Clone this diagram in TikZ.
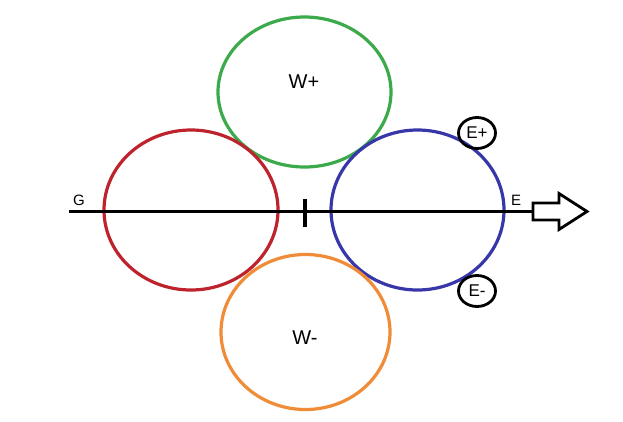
\documentclass[tikz,border=0pt]{standalone}
\usepackage{fontspec}
\setmainfont{Liberation Sans}
\usetikzlibrary{shapes.geometric}
\definecolor{zonered}{RGB}{190,35,45}
\definecolor{zonegreen}{RGB}{60,170,75}
\definecolor{zoneblue}{RGB}{55,55,170}
\definecolor{zoneorange}{RGB}{240,140,55}
\begin{document}
\begin{tikzpicture}[
      x=1pt, y=-1pt,
      zone/.style={ellipse, line width=3.2pt, inner sep=0pt, outer sep=0pt,
                   font=\fontsize{20}{24}\selectfont},
      pole/.style={ellipse, draw=black, line width=2.8pt, minimum width=37pt,
                   minimum height=31pt, inner sep=0pt, font=\fontsize{17}{20}\selectfont},
      axislabel/.style={font=\fontsize{15}{18}\selectfont},
    ]
    \useasboundingbox (0,0) rectangle (623,421);

    \node[zone, draw=zonegreen, minimum width=173pt, minimum height=150pt]
      (wplus) at (304.5,92) {};
    \node at (304,82) [zone] {W+};
    \node[zone, draw=zonered, minimum width=174pt, minimum height=160pt]
      (west) at (191,210) {};
    \node[zone, draw=zoneblue, minimum width=173pt, minimum height=160pt]
      (east) at (417.5,210) {};
    \node[zone, draw=zoneorange, minimum width=169pt, minimum height=155pt]
      (wminus) at (305.5,332) {};
    \node at (305,338) [zone] {W-};

    % axis with the open block arrow
    \coordinate (G) at (69,211.5);
    \coordinate (arrow) at (533,211.5);
    \draw[line width=3pt] (G) -- (arrow);
    \draw[line width=2.8pt, line join=miter] (arrow) -- ++(0,-8.5) -- ++(26,0)
      -- ++(0,-9.5) -- ++(28,18) -- ++(-28,18) -- ++(0,-9.5) -- ++(-26,0) -- cycle;

    \coordinate (ticktop) at (305,199);
    \coordinate (tickbot) at (305,227);
    \draw[line width=3.2pt] (ticktop) -- (tickbot);

    \node[axislabel] (glabel) at (79,200) {G};
    \node[axislabel] (elabel) at (516,200) {E};

    \node[pole] (eplus) at (477,133) {E+};
    \node[pole] (eminus) at (477,291) {E-};

  \end{tikzpicture}
\end{document}
